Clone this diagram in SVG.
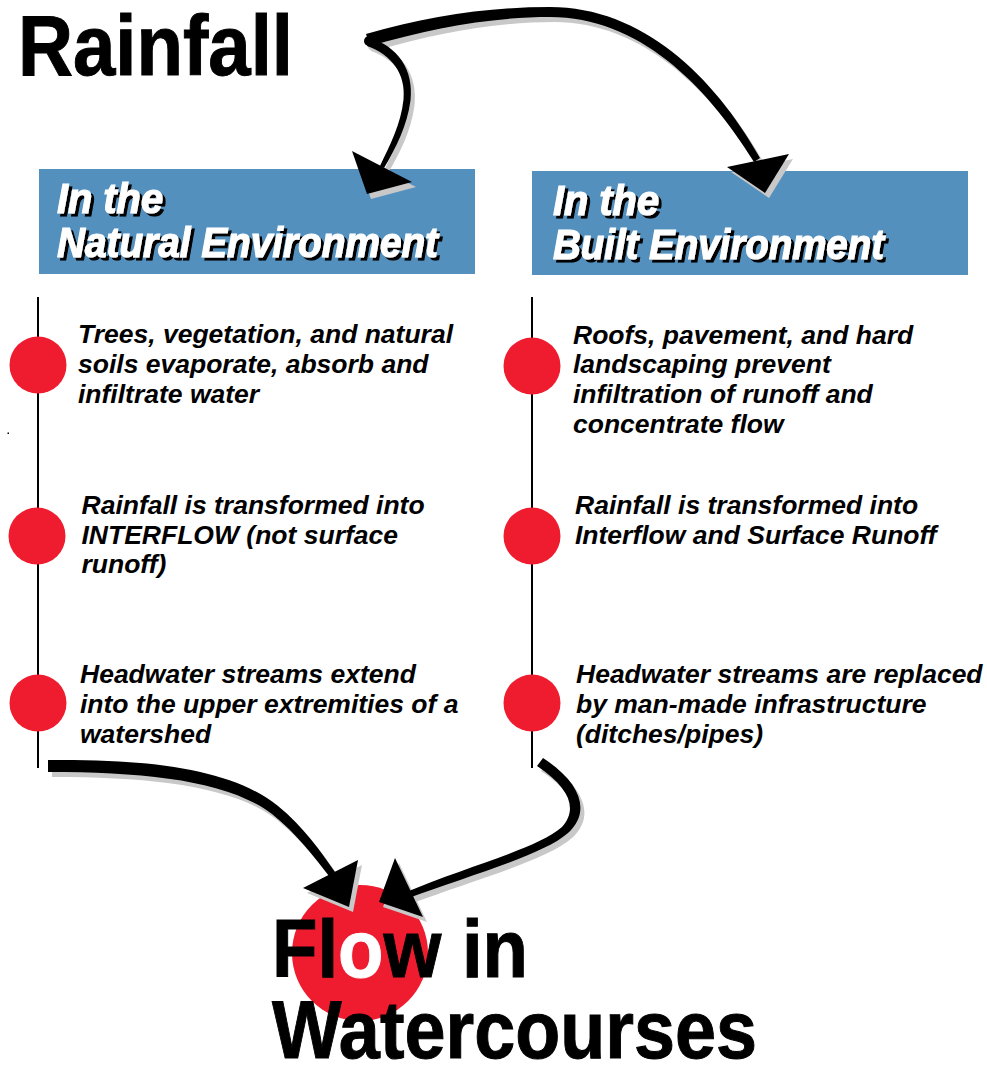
<svg xmlns="http://www.w3.org/2000/svg" width="987" height="1065" viewBox="0 0 987 1065">
<style>
  .sans { font-family: "Liberation Sans", Arial, Helvetica, sans-serif; font-weight: bold; }
  .item { font-style: italic; font-size: 26.5px; fill: #000; }
  .hdr { font-style: italic; font-size: 43px; fill: #fff; stroke: #fff; stroke-width: 1.2; filter: url(#tshadow); }
  .big { font-size: 86px; fill: #000; stroke: #000; stroke-width: 1; }
  .flow { font-size: 81px; fill: #000; stroke: #000; stroke-width: 1; }
  .box { fill: #5390BE; }
  .dot { fill: #EE1C2E; }
  .rail { stroke: #000; stroke-width: 2; fill: none; }
  .arr { fill: #000; }
  .sh { fill: #C8C8C8; }
</style>
<defs>
  <filter id="tshadow" x="-10%" y="-20%" width="120%" height="150%">
    <feOffset in="SourceAlpha" dx="3" dy="3" result="off"/>
    <feMerge>
      <feMergeNode in="off"/>
      <feMergeNode in="SourceGraphic"/>
    </feMerge>
  </filter>
  <g id="arrowShapes">
    <path d="M366,34 C428,16 489,7 550,7 C642,7 714,76 760,158 L754,162 C706,84 638,17 550,17 C491,17 432,28 370,46 Z"/>
    <circle cx="369" cy="41" r="5"/>
    <polygon points="727,167 789,154 765,193"/>
    <path d="M369,38 C398,46 414,70 410.5,100.5 C407,126 396,148 384,168 L380,166 C390,145 401,124 403.5,99.5 C406,74 392,55 367,46 Z"/>
    <polygon points="352,151 412,182 367,194"/>
    <path d="M48,760 C151,759 232,769 278,806 C303,826 321,852 335,872 L329,876 C315,858 297,834 272,814 C228,781 149,772 48,772 Z"/>
    <polygon points="303,888 358,860 349,907"/>
    <path d="M543,758 C580,782 592,811 568,833 C543,855 473,874 406,899 L404,893 C467,866 537,849 562,827 C578,809 570,788 537,766 Z"/>
    <polygon points="395,858 379,902 423,917"/>
  </g>
</defs>

<g id="node-rainfall">
  <text class="sans big" x="18" y="75" textLength="275" lengthAdjust="spacingAndGlyphs">Rainfall</text>
</g>

<g id="node-natural-header">
  <rect class="box" x="39" y="169" width="436" height="105"/>
  <text class="sans hdr" x="57" y="213" textLength="106" lengthAdjust="spacingAndGlyphs">In the</text>
  <text class="sans hdr" x="57" y="257" textLength="381" lengthAdjust="spacingAndGlyphs">Natural Environment</text>
</g>

<g id="node-built-header">
  <rect class="box" x="532" y="171" width="436" height="104"/>
  <text class="sans hdr" x="553" y="215" textLength="106" lengthAdjust="spacingAndGlyphs">In the</text>
  <text class="sans hdr" x="553" y="259" textLength="331" lengthAdjust="spacingAndGlyphs">Built Environment</text>
</g>

<g id="rails">
  <line class="rail" x1="38" y1="297" x2="38" y2="768"/>
  <line class="rail" x1="532" y1="297" x2="532" y2="768"/>
  <rect x="7.5" y="432.5" width="1.5" height="1.5" fill="#000"/>
</g>

<g id="node-natural-1">
  <circle class="dot" cx="38" cy="365" r="28.5"/>
  <text class="sans item" x="78" y="343">Trees, vegetation, and natural</text>
  <text class="sans item" x="78" y="373">soils evaporate, absorb and</text>
  <text class="sans item" x="78" y="402.5">infiltrate water</text>
</g>
<g id="node-natural-2">
  <circle class="dot" cx="37" cy="536" r="28.5"/>
  <text class="sans item" x="81.5" y="513.5">Rainfall is transformed into</text>
  <text class="sans item" x="81.5" y="543.5">INTERFLOW (not surface</text>
  <text class="sans item" x="81.5" y="573">runoff)</text>
</g>
<g id="node-natural-3">
  <circle class="dot" cx="38" cy="703" r="28.5"/>
  <text class="sans item" x="80" y="683">Headwater streams extend</text>
  <text class="sans item" x="80" y="713">into the upper extremities of a</text>
  <text class="sans item" x="80" y="743">watershed</text>
</g>

<g id="node-built-1">
  <circle class="dot" cx="532" cy="366" r="28.5"/>
  <text class="sans item" x="573" y="343.5">Roofs, pavement, and hard</text>
  <text class="sans item" x="573" y="373">landscaping prevent</text>
  <text class="sans item" x="573" y="402.5">infiltration of runoff and</text>
  <text class="sans item" x="573" y="432.5">concentrate flow</text>
</g>
<g id="node-built-2">
  <circle class="dot" cx="532" cy="536" r="28.5"/>
  <text class="sans item" x="575" y="514">Rainfall is transformed into</text>
  <text class="sans item" x="575" y="544">Interflow and Surface Runoff</text>
</g>
<g id="node-built-3">
  <circle class="dot" cx="532" cy="703" r="28.5"/>
  <text class="sans item" x="576" y="683">Headwater streams are replaced</text>
  <text class="sans item" x="576" y="713">by man-made infrastructure</text>
  <text class="sans item" x="576" y="743">(ditches/pipes)</text>
</g>

<g id="node-flow-circle">
  <circle class="dot" cx="360" cy="953" r="68"/>
</g>

<g id="connectors">
  <use href="#arrowShapes" class="sh" transform="translate(4,5)"/>
  <use href="#arrowShapes" class="arr"/>
</g>

<g id="node-flow">
  <text class="sans flow" x="272" y="977" textLength="256" lengthAdjust="spacingAndGlyphs">Fl<tspan fill="#fff" stroke="#fff">o</tspan>w in</text>
  <text class="sans flow" x="272" y="1058" textLength="485" lengthAdjust="spacingAndGlyphs">Watercourses</text>
</g>
</svg>
